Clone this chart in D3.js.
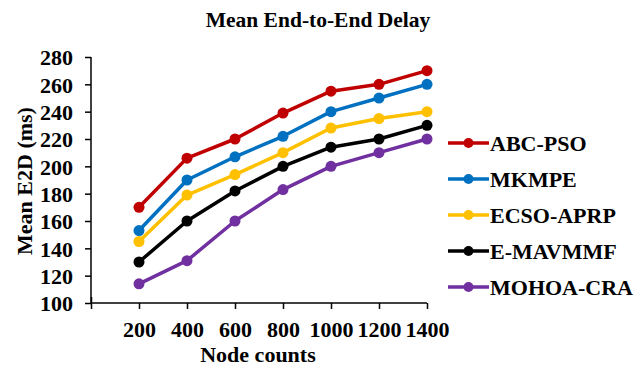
<!DOCTYPE html>
<html><head><meta charset="utf-8">
<script src="https://cdn.jsdelivr.net/npm/d3@7"></script>
<style>body{margin:0;background:#fff}svg{display:block}text{font-family:"Liberation Serif","Times New Roman",serif;font-weight:bold;fill:#000}</style>
</head><body>
<svg id="c" width="636" height="368"></svg>
<script>
const nodeCounts = [200, 400, 600, 800, 1000, 1200, 1400];
const seriesNames = ["ABC-PSO", "MKMPE", "ECSO-APRP", "E-MAVMMF", "MOHOA-CRA"];
const abcPso   = [170, 206, 220, 239, 255, 260, 270];
const mkmpe    = [153, 190, 207, 222, 240, 250, 260];
const ecsoAprp = [145, 179, 194, 210, 228, 235, 240];
const eMavmmf  = [130, 160, 182, 200, 214, 220, 230];
const mohoaCra = [114, 131, 160, 183, 200, 210, 220];
const colors = ["#C00000", "#0070C0", "#FFC000", "#000000", "#7030A0"];
const yTicks = [100, 120, 140, 160, 180, 200, 220, 240, 260, 280];

const series = [abcPso, mkmpe, ecsoAprp, eMavmmf, mohoaCra];
const svg = d3.select("#c");
const x = d3.scaleLinear().domain([0, 1400]).range([91, 427]);
const y = d3.scaleLinear().domain([100, 280]).range([303, 57]);

// title
svg.append("text").attr("x", 318).attr("y", 27).attr("text-anchor", "middle")
  .style("font-size", "21.5px").text("Mean End-to-End Delay");

// y axis
const ya = svg.append("g").attr("transform", "translate(91,0)")
  .call(d3.axisLeft(y).tickValues(yTicks).tickSize(6).tickPadding(12));
ya.selectAll("text").style("font-size", "22px").attr("dy", "0.35em");
ya.select(".domain").attr("d", "M0,57V303").attr("stroke-width", 1.5);
ya.selectAll("line").attr("stroke-width", 1.5);

// x axis
const xa = svg.append("g").attr("transform", "translate(0,303)")
  .call(d3.axisBottom(x).tickValues([0].concat(nodeCounts)).tickSize(6).tickPadding(12)
    .tickFormat(d => d === 0 ? "" : d));
xa.selectAll("text").style("font-size", "22px");
xa.select(".domain").attr("d", "M91,0H427").attr("stroke-width", 1.5);
xa.selectAll("line").attr("stroke-width", 1.5);
xa.selectAll(".tick").filter(d => d === 0).select("line").attr("y1", -6).attr("y2", 6);

// axis titles
svg.append("text").attr("transform", "translate(32,181) rotate(-90)").attr("text-anchor", "middle")
  .style("font-size", "22px").text("Mean E2D (ms)");
svg.append("text").attr("x", 258).attr("y", 362).attr("text-anchor", "middle")
  .style("font-size", "22px").text("Node counts");

// lines
const line = d3.line().x((d, i) => x(nodeCounts[i])).y(d => y(d));
series.forEach((s, k) => {
  const g = svg.append("g");
  g.append("path").datum(s).attr("d", line).attr("fill", "none")
    .attr("stroke", colors[k]).attr("stroke-width", 3.5).attr("stroke-linejoin", "round");
  g.selectAll("circle").data(s).join("circle")
    .attr("cx", (d, i) => x(nodeCounts[i])).attr("cy", d => y(d)).attr("r", 5.5)
    .attr("fill", colors[k]);
});

// legend
const lg = svg.append("g");
seriesNames.forEach((n, k) => {
  const yy = 143 + k * 36;
  lg.append("line").attr("x1", 448).attr("x2", 489).attr("y1", yy).attr("y2", yy)
    .attr("stroke", colors[k]).attr("stroke-width", 3.5);
  lg.append("circle").attr("cx", 468.5).attr("cy", yy).attr("r", 5).attr("fill", colors[k]);
  lg.append("text").attr("x", 490).attr("y", yy).attr("dy", "0.35em")
    .style("font-size", "22px").text(n);
});
</script>
</body></html>
